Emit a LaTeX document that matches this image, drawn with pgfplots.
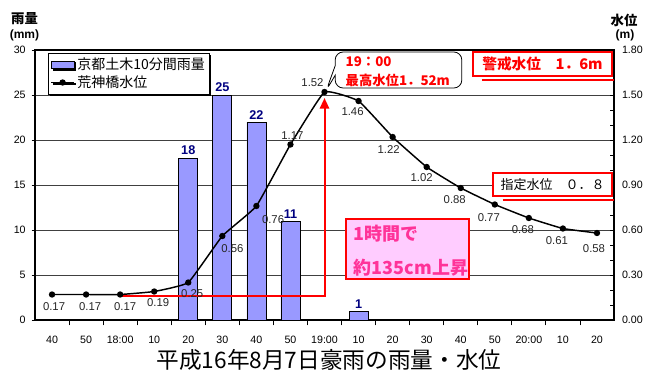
\documentclass[border=0pt]{standalone}
\usepackage{fontspec}
\setmainfont{Liberation Sans}
\newfontfamily\jp{Noto Sans CJK JP}
\usepackage{pgfplots}
\pgfplotsset{compat=1.18}
\usepackage{pgfplotstable}
\usetikzlibrary{arrows.meta,shapes.callouts,shadows}

\definecolor{barblue}{HTML}{9999FF}
\definecolor{lblnavy}{HTML}{000080}
\definecolor{hotpink}{HTML}{FF3399}
\definecolor{pinkfill}{HTML}{FFCCFF}
\definecolor{gridgray}{HTML}{404040}

\pgfplotsset{/pgf/number format/assume math mode=true}

% 10-minute rainfall (mm); categories are 0 = 17:40 ... 16 = 20:20
\pgfplotstableread{
x rain
4 18
5 25
6 22
7 11
9 1
}\raintable

% water level (m) with label offsets (pt)
\pgfplotstableread{
x level dx dy
0 0.17 1.5 -9
1 0.17 3 -9
2 0.17 3.75 -9
3 0.19 3 -8.6
4 0.25 3 -8.25
5 0.56 7.5 -9.75
6 0.76 12.5 -10
7 1.17 1.5 6.75
8 1.52 -9 6.75
9 1.46 -4.5 -8.25
10 1.22 -3 -9.75
11 1.02 -3.75 -8.25
12 0.88 -4.5 -9
13 0.77 -4.5 -9.75
14 0.68 -4.5 -9
15 0.61 -4.5 -9
16 0.58 -2.25 -12
}\leveltable

\begin{document}
\begin{tikzpicture}
\useasboundingbox (0,0) rectangle (486pt,279pt);

% rainfall axis (left)
\begin{axis}[
  at={(26.25pt,39pt)}, anchor=south west,
  scale only axis, width=434.25pt, height=202.5pt,
  clip=false,
  ybar, bar width=14.25pt,
  xmin=-0.5, xmax=16.5, ymin=0, ymax=30,
  xtick={0,...,16},
  xticklabels={40,50,18:00,10,20,30,40,50,19:00,10,20,30,40,50,20:00,10,20},
  minor xtick={0.5,1.5,...,15.5},
  xtick pos=bottom,
  major x tick style={draw=none},
  minor x tick style={black, line width=0.6pt},
  minor tick length=4pt,
  ytick={0,5,...,30},
  ytick pos=left,
  ytick align=outside,
  major tick length=2.5pt,
  ytick style={black, line width=0.6pt},
  ymajorgrids,
  major grid style={gridgray, line width=0.6pt},
  axis line style={black, line width=0.8pt},
  tick label style={font=\fontsize{8}{9}\selectfont},
  xticklabel style={yshift=-6pt},
  yticklabel style={xshift=-1pt},
]
\addplot[fill=barblue, draw=black, line width=0.5pt,
  nodes near coords,
  every node near coord/.append style={font=\bfseries\fontsize{9.5}{11}\selectfont, text=lblnavy, inner sep=2pt}]
  table[x=x, y=rain] {\raintable};
\end{axis}

% water level axis (right)
\begin{axis}[
  at={(26.25pt,39pt)}, anchor=south west,
  scale only axis, width=434.25pt, height=202.5pt,
  clip=false,
  xmin=-0.5, xmax=16.5, ymin=0, ymax=1.8,
  axis x line=none,
  axis y line*=right,
  y axis line style={black, line width=1pt},
  ytick={0,0.3,0.6,0.9,1.2,1.5,1.8},
  minor y tick num=2,
  tick align=inside,
  major tick length=3pt, minor tick length=3pt,
  ytick style={black, line width=0.6pt},
  minor y tick style={black, line width=0.6pt},
  yticklabel={\pgfmathprintnumber[fixed,fixed zerofill,precision=2]{\tick}},
  yticklabel style={font=\fontsize{8}{9}\selectfont, xshift=2.5pt},
  legend style={at={(0.0225,0.99)}, anchor=north west,
    draw=black, line width=0.7pt, fill=white,
    font=\jp\fontsize{10.5}{12}\selectfont,
    inner sep=1.5pt, row sep=-1pt,
    cells={anchor=west},
    drop shadow={shadow xshift=1.3pt, shadow yshift=-1.3pt, opacity=1, fill=black}},
]
\addlegendimage{area legend, fill=barblue, draw=black, line width=0.5pt}
\addlegendentry{京都土木10分間雨量}

% rise from 18:00 to the 19:00 peak
\draw[red, line width=1.5pt, -{Triangle[length=8pt,width=7pt]}]
  (axis cs:2,0.16) -| (axis cs:8,1.48);

% warning and designated levels
\draw[red, line width=0.8pt] (axis cs:12.62,1.6) -- (axis cs:16.5,1.6);
\draw[red, line width=0.8pt] (axis cs:13.24,0.8) -- (axis cs:16.5,0.8);

\addplot[black, line width=1.1pt, smooth, tension=0.2,
  mark=*, mark size=1.8pt, mark options={solid, fill=black},
  point meta=y,
  visualization depends on={\thisrow{dx}\as\ldx},
  visualization depends on={\thisrow{dy}\as\ldy},
  nodes near coords={\pgfmathprintnumber[fixed,fixed zerofill,precision=2]{\pgfplotspointmeta}},
  every node near coord/.append style={anchor=center, xshift=\ldx pt, yshift=\ldy pt,
    font=\fontsize{8.5}{10}\selectfont, text=black!85, inner sep=0pt}]
  table[x=x, y=level] {\leveltable};
\addlegendentry{荒神橋水位}

\coordinate (peak) at (axis cs:8.05,1.53);
\end{axis}

\begin{scope}[x=0.75pt, y=-0.75pt, yshift=279pt]
  % axis titles
  \node[font=\jp\bfseries\fontsize{10}{12}\selectfont] at (24.5,19) {雨量};
  \node[font=\bfseries\fontsize{9}{11}\selectfont] at (24.5,35) {(mm)};
  \node[font=\jp\bfseries\fontsize{10}{12}\selectfont] at (624,20) {水位};
  \node[font=\bfseries\fontsize{9}{11}\selectfont] at (625,35) {(m)};

  % chart title
  \node[font=\jp\fontsize{17}{19}\selectfont] at (329,360) {平成16年8月7日豪雨の雨量・水位};

  % peak callout
  \node[rectangle callout, rounded corners=6pt, draw=black, line width=0.6pt, fill=white,
    minimum width=95pt, minimum height=27pt, inner sep=0pt,
    callout absolute pointer={(peak)}] (co) at (398.5,70) {};
  \node[anchor=west, text=red, font=\jp\bfseries\fontsize{10}{12}\selectfont] at (341,62) {19：00};
  \node[anchor=west, text=red, font=\jp\bfseries\fontsize{10}{12}\selectfont] at (341,80) {最高水位1．52m};

  % warning level box
  \draw[red, line width=1.2pt, fill=white] (473,52) rectangle (612,76);
  \node[text=red, font=\jp\bfseries\fontsize{11}{13}\selectfont] at (542.5,64) {警戒水位　1．6m};

  % designated level box
  \draw[red, line width=1.2pt, fill=white] (493,173) rectangle (612,196);
  \node[text=black, font=\jp\fontsize{9.75}{12}\selectfont] at (552.5,184.5) {指定水位　０．８};

  % rise note
  \draw[red, line width=1.5pt, fill=pinkfill] (346,219) rectangle (469,279);
  \node[anchor=west, text=hotpink, font=\jp\bfseries\fontsize{13.5}{15}\selectfont] at (349,234) {1時間で};
  \node[anchor=west, text=hotpink, font=\jp\bfseries\fontsize{13.5}{15}\selectfont] at (349,268) {約135cm上昇};
\end{scope}
\end{tikzpicture}
\end{document}
